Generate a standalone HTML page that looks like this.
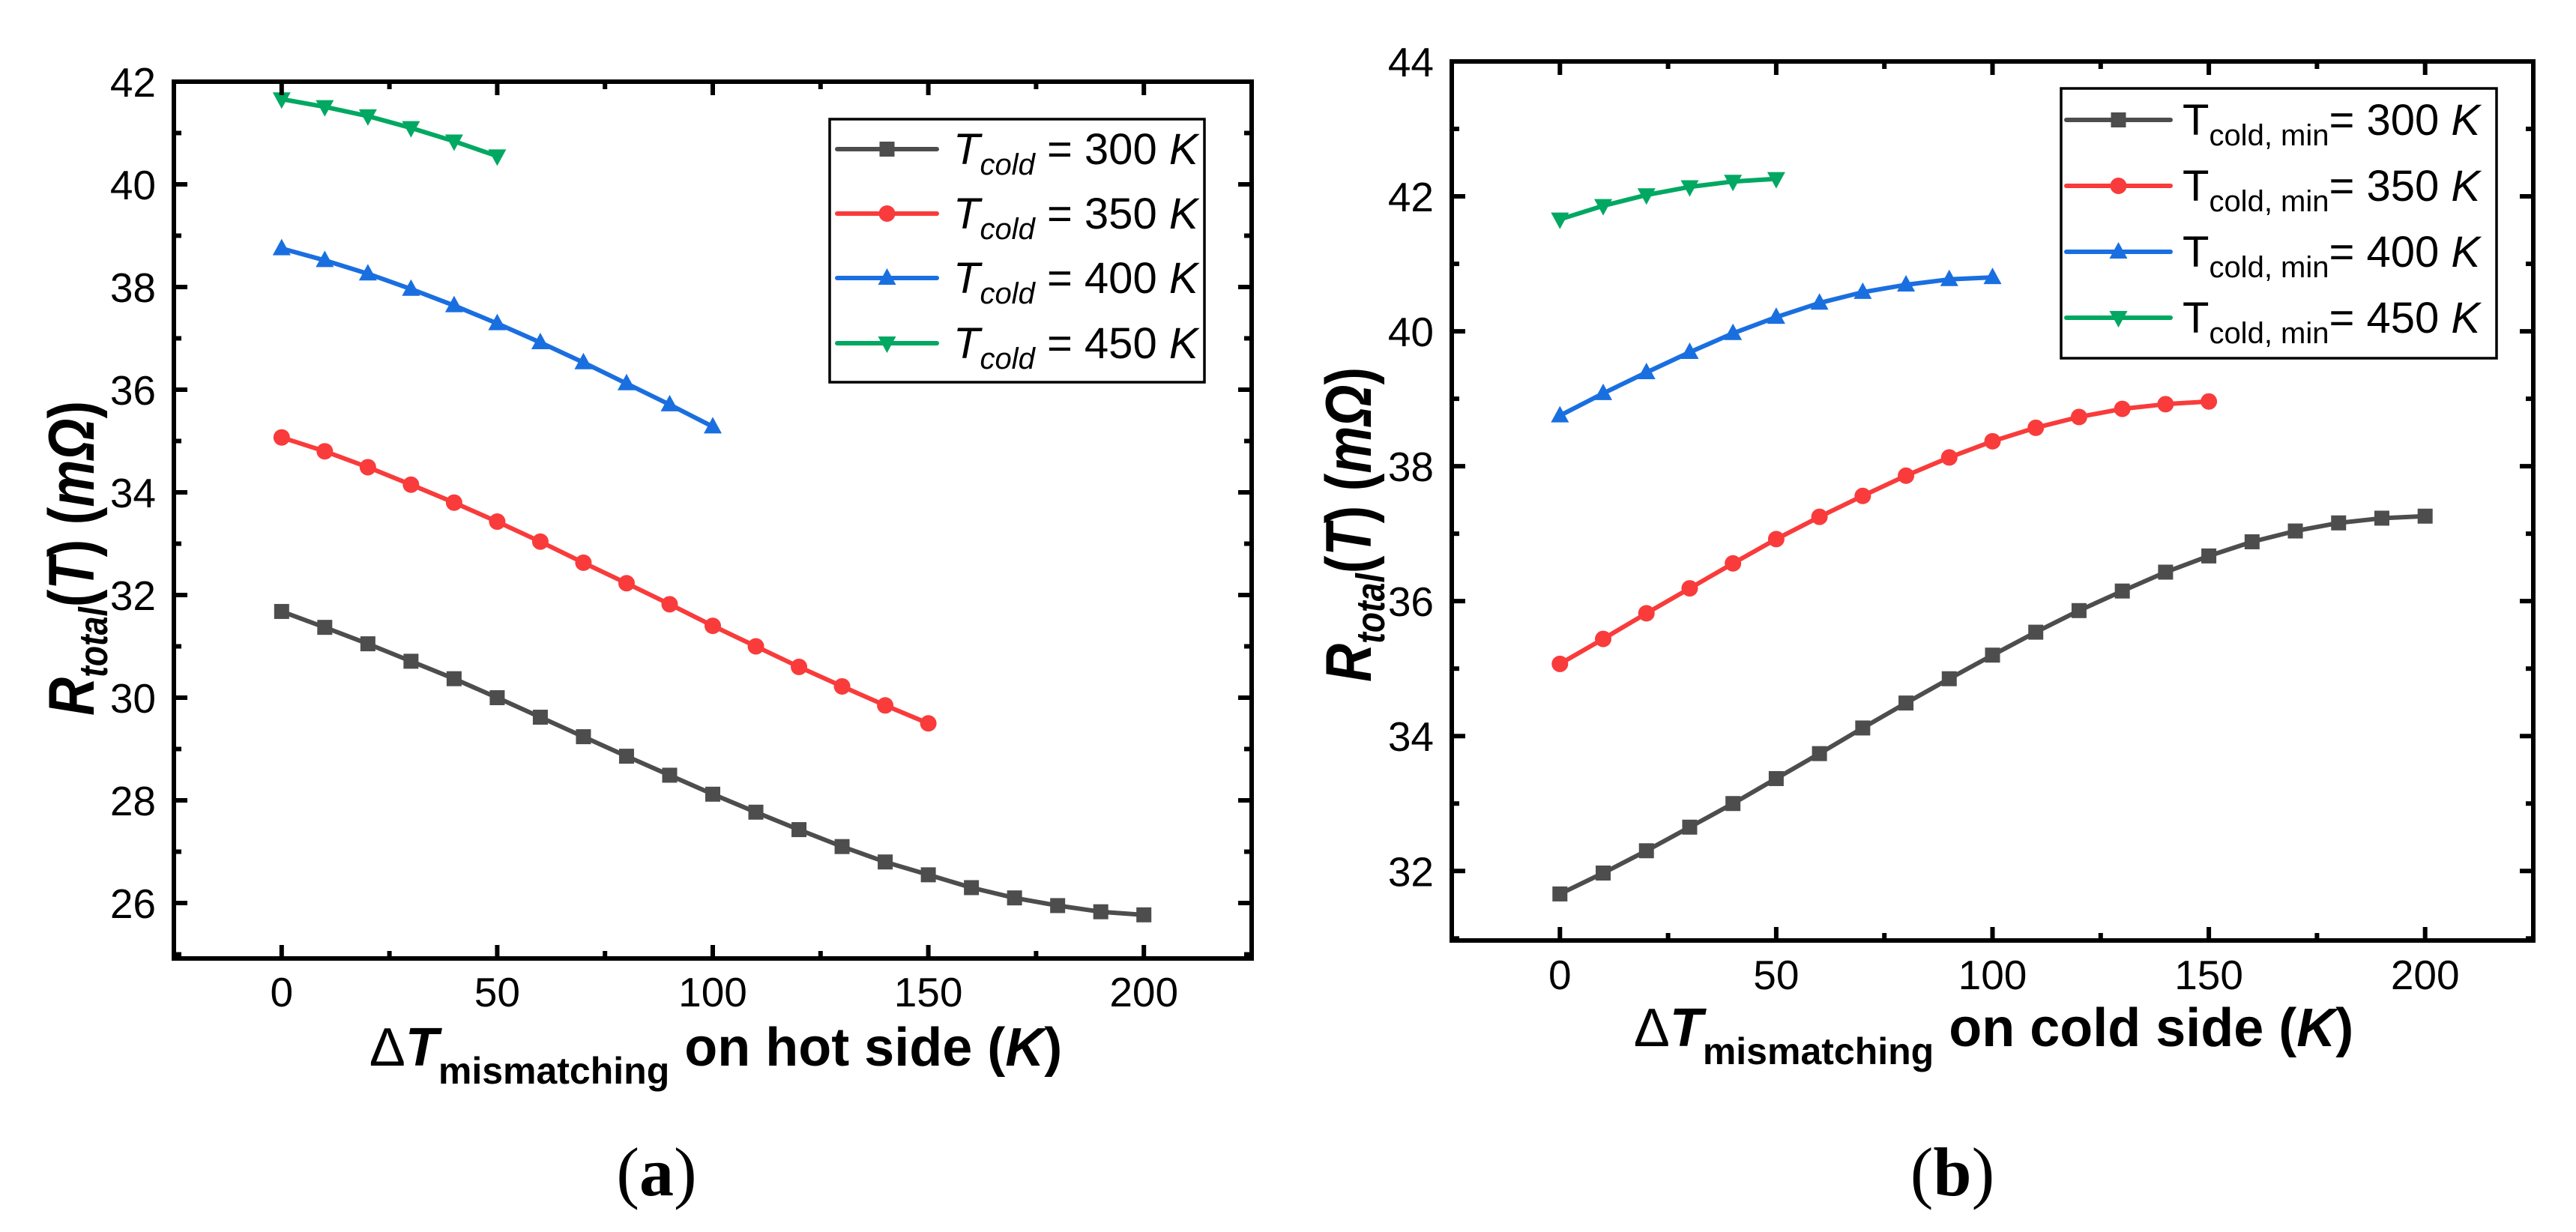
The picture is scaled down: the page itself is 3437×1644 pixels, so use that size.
<!DOCTYPE html>
<html><head><meta charset="utf-8">
<style>
html,body{margin:0;padding:0;background:#fff;}
svg{display:block;}
text{font-family:"Liberation Sans",Arial,sans-serif;fill:#000;}
</style></head>
<body>
<svg id="fig" width="3437" height="1644" viewBox="0 0 3437 1644" xmlns="http://www.w3.org/2000/svg">
<rect width="3437" height="1644" fill="#fff"/>
<g id="pa"></g>
<g id="pb"></g>
</svg>
<script>
// ---- data ----
const xA300 = [0,10,20,30,40,50,60,70,80,90,100,110,120,130,140,150,160,170,180,190,200];
const yA300 = [31.68,31.37,31.05,30.71,30.37,30.0,29.62,29.24,28.86,28.49,28.12,27.77,27.43,27.1,26.8,26.55,26.3,26.1,25.95,25.83,25.77];
const xA350 = [0,10,20,30,40,50,60,70,80,90,100,110,120,130,140,150];
const yA350 = [35.07,34.8,34.49,34.15,33.8,33.43,33.04,32.63,32.23,31.82,31.4,31.0,30.6,30.22,29.85,29.5];
const xA400 = [0,10,20,30,40,50,60,70,80,90,100];
const yA400 = [38.75,38.52,38.26,37.96,37.64,37.29,36.92,36.53,36.12,35.71,35.28];
const xA450 = [0,10,20,30,40,50];
const yA450 = [41.66,41.51,41.33,41.1,40.84,40.55];

const xB300 = [0,10,20,30,40,50,60,70,80,90,100,110,120,130,140,150,160,170,180,190,200];
const yB300 = [31.66,31.97,32.3,32.65,33.0,33.37,33.74,34.12,34.49,34.85,35.2,35.54,35.86,36.15,36.43,36.67,36.88,37.04,37.16,37.23,37.26];
const xB350 = [0,10,20,30,40,50,60,70,80,90,100,110,120,130,140,150];
const yB350 = [35.07,35.44,35.82,36.19,36.56,36.92,37.25,37.56,37.86,38.13,38.37,38.57,38.73,38.85,38.92,38.96];
const xB400 = [0,10,20,30,40,50,60,70,80,90,100];
const yB400 = [38.75,39.08,39.39,39.69,39.97,40.21,40.42,40.58,40.69,40.77,40.8];
const xB450 = [0,10,20,30,40,50];
const yB450 = [41.66,41.86,42.02,42.14,42.22,42.26];

const xTicks = [0,50,100,150,200];
const yTicksA = [26,28,30,32,34,36,38,40,42];
const yTicksB = [32,34,36,38,40,42,44];
const seriesTemps = ["300","350","400","450"];

const NS = "http://www.w3.org/2000/svg";
const colors = ["#4d4d4d","#f93b3b","#1a6fe0","#00a862"];
const markers = ["square","circle","up","down"];

function mk(tag, attrs, parent){
  const e = document.createElementNS(NS, tag);
  for (const k in attrs) e.setAttribute(k, attrs[k]);
  parent.appendChild(e);
  return e;
}
function marker(g, type, cx, cy, color){
  let m;
  if (type==="square") m = mk("rect",{x:cx-10,y:cy-10,width:20,height:20,fill:color},g);
  else if (type==="circle") m = mk("circle",{cx:cx,cy:cy,r:11,fill:color},g);
  else if (type==="up") m = mk("polygon",{points:`${cx},${cy-13} ${cx-12},${cy+9} ${cx+12},${cy+9}`,fill:color},g);
  else m = mk("polygon",{points:`${cx},${cy+13} ${cx-12},${cy-9} ${cx+12},${cy-9}`,fill:color},g);
  return m;
}

function panel(g, cfg){
  const {L,R,T,B,xmin,xmax,ymin,ymax,yTicks,series,xlabBase,ylabRight} = cfg;
  const sx = v => L + (v - xmin)/(xmax - xmin)*(R - L);
  const sy = v => B - (v - ymin)/(ymax - ymin)*(B - T);
  series.forEach((s,i)=>{
    const sg = mk("g",{},g);
    
    
    const pts = s.x.map((xv,j)=>sx(xv).toFixed(1)+","+sy(s.y[j]).toFixed(1)).join(" ");
    const pl = mk("polyline",{points:pts,fill:"none",stroke:colors[i],"stroke-width":6,"stroke-linejoin":"round","stroke-linecap":"round"},sg);
    
    
    s.x.forEach((xv,j)=>{
      const m = marker(sg, markers[i], sx(xv), sy(s.y[j]), colors[i]);
      
      
    });
  });
  const tg = mk("g",{stroke:"#000","stroke-width":6},g);
  
  
  for (let v = -25; v <= 225; v += 25){
    const x = sx(v); const major = (v % 50 === 0);
    const len = major ? 18 : 10;
    if (v===-25 || v===225) continue;
    mk("line",{x1:x,y1:B,x2:x,y2:B-len},tg);
    mk("line",{x1:x,y1:T,x2:x,y2:T+len},tg);
  }
  for (let v = Math.ceil(ymin); v <= ymax; v += 1){
    const y = sy(v); const major = yTicks.includes(v);
    const len = major ? 18 : 10;
    mk("line",{x1:L,y1:y,x2:L+len,y2:y},tg);
    mk("line",{x1:R,y1:y,x2:R-len,y2:y},tg);
  }
  const fr = mk("rect",{x:L,y:T,width:R-L,height:B-T,fill:"none",stroke:"#000","stroke-width":6},g);
  
  
  xTicks.forEach(v=>{
    const t = mk("text",{x:sx(v),y:xlabBase,"text-anchor":"middle","font-size":55},g);
    t.textContent = v;
    
    
  });
  yTicks.forEach(v=>{
    const t = mk("text",{x:ylabRight,y:sy(v)+20,"text-anchor":"end","font-size":55},g);
    t.textContent = v;
    
    
  });
  return {sx,sy};
}

function legend(g, box, rows, lineX1, lineX2, textX, labelFn){
  const lg = mk("g",{},g);
  
  
  mk("rect",{x:box[0],y:box[1],width:box[2],height:box[3],fill:"#fff",stroke:"#000","stroke-width":3.5},lg);
  rows.forEach((ry,i)=>{
    const eg = mk("g",{},lg);
    
    
    mk("line",{x1:lineX1,y1:ry,x2:lineX2,y2:ry,stroke:colors[i],"stroke-width":6,"stroke-linecap":"round"},eg);
    marker(eg, markers[i], (lineX1+lineX2)/2, ry, colors[i]);
    const t = mk("text",{x:textX,y:ry+20,"font-size":58},eg);
    t.innerHTML = labelFn(seriesTemps[i]);
  });
}

function titles(g, yx, yy, xx, xy, title, capX, capY, cap){
  const yt = mk("text",{transform:`translate(${yx},${yy}) rotate(-90)`,"text-anchor":"middle","font-size":86,"font-weight":"bold",textLength:420,lengthAdjust:"spacingAndGlyphs"},g);
  yt.innerHTML = '<tspan font-style="italic">R</tspan><tspan font-style="italic" font-size="54" dy="18">total</tspan><tspan dy="-18">(</tspan><tspan font-style="italic">T</tspan><tspan>) (</tspan><tspan font-style="italic">m&#937;</tspan><tspan>)</tspan>';
  
  
  const xt = mk("text",{x:xx,y:xy,"text-anchor":"middle","font-size":72,"font-weight":"bold"},g);
  xt.innerHTML = '<tspan font-weight="normal">&#916;</tspan><tspan font-style="italic">T</tspan><tspan font-size="50" dy="24">mismatching</tspan><tspan dy="-24"> ' + title + ' (</tspan><tspan font-style="italic">K</tspan><tspan>)</tspan>';
  
  
  const ct = mk("text",{x:capX,y:capY,"text-anchor":"middle","font-size":92,style:'font-family:"Liberation Serif",serif'},g);
  ct.innerHTML = '(<tspan font-weight="bold">' + cap + '</tspan>)';
  
  
}

const ga = document.getElementById("pa");
panel(ga,{L:232,R:1670,T:109,B:1279,xmin:-25,xmax:225,ymin:24.92,ymax:42,yTicks:yTicksA,
  series:[{x:xA300,y:yA300},{x:xA350,y:yA350},{x:xA400,y:yA400},{x:xA450,y:yA450}],
  xlabBase:1343,ylabRight:208});
legend(ga,[1107,159,500,351],[199,285,371,458],1117,1250,1272,
  t=>'<tspan font-style="italic">T</tspan><tspan font-style="italic" font-size="40" dy="14">cold</tspan><tspan dy="-14"> = ' + t + ' </tspan><tspan font-style="italic">K</tspan>');
titles(ga,125,745,955,1422,"on hot side",876,1595,"a");

const gb = document.getElementById("pb");
panel(gb,{L:1937,R:3380,T:82,B:1255,xmin:-25,xmax:225,ymin:30.97,ymax:44,yTicks:yTicksB,
  series:[{x:xB300,y:yB300},{x:xB350,y:yB350},{x:xB400,y:yB400},{x:xB450,y:yB450}],
  xlabBase:1320,ylabRight:1913});
legend(gb,[2750,118,581,360],[160,248,336,424],2757,2896,2912,
  t=>'T<tspan font-size="40" dy="14">cold, min</tspan><tspan dy="-14">= ' + t + ' </tspan><tspan font-style="italic">K</tspan>');
titles(gb,1829,700,2660,1396,"on cold side",2605,1595,"b");
</script>
</body></html>
